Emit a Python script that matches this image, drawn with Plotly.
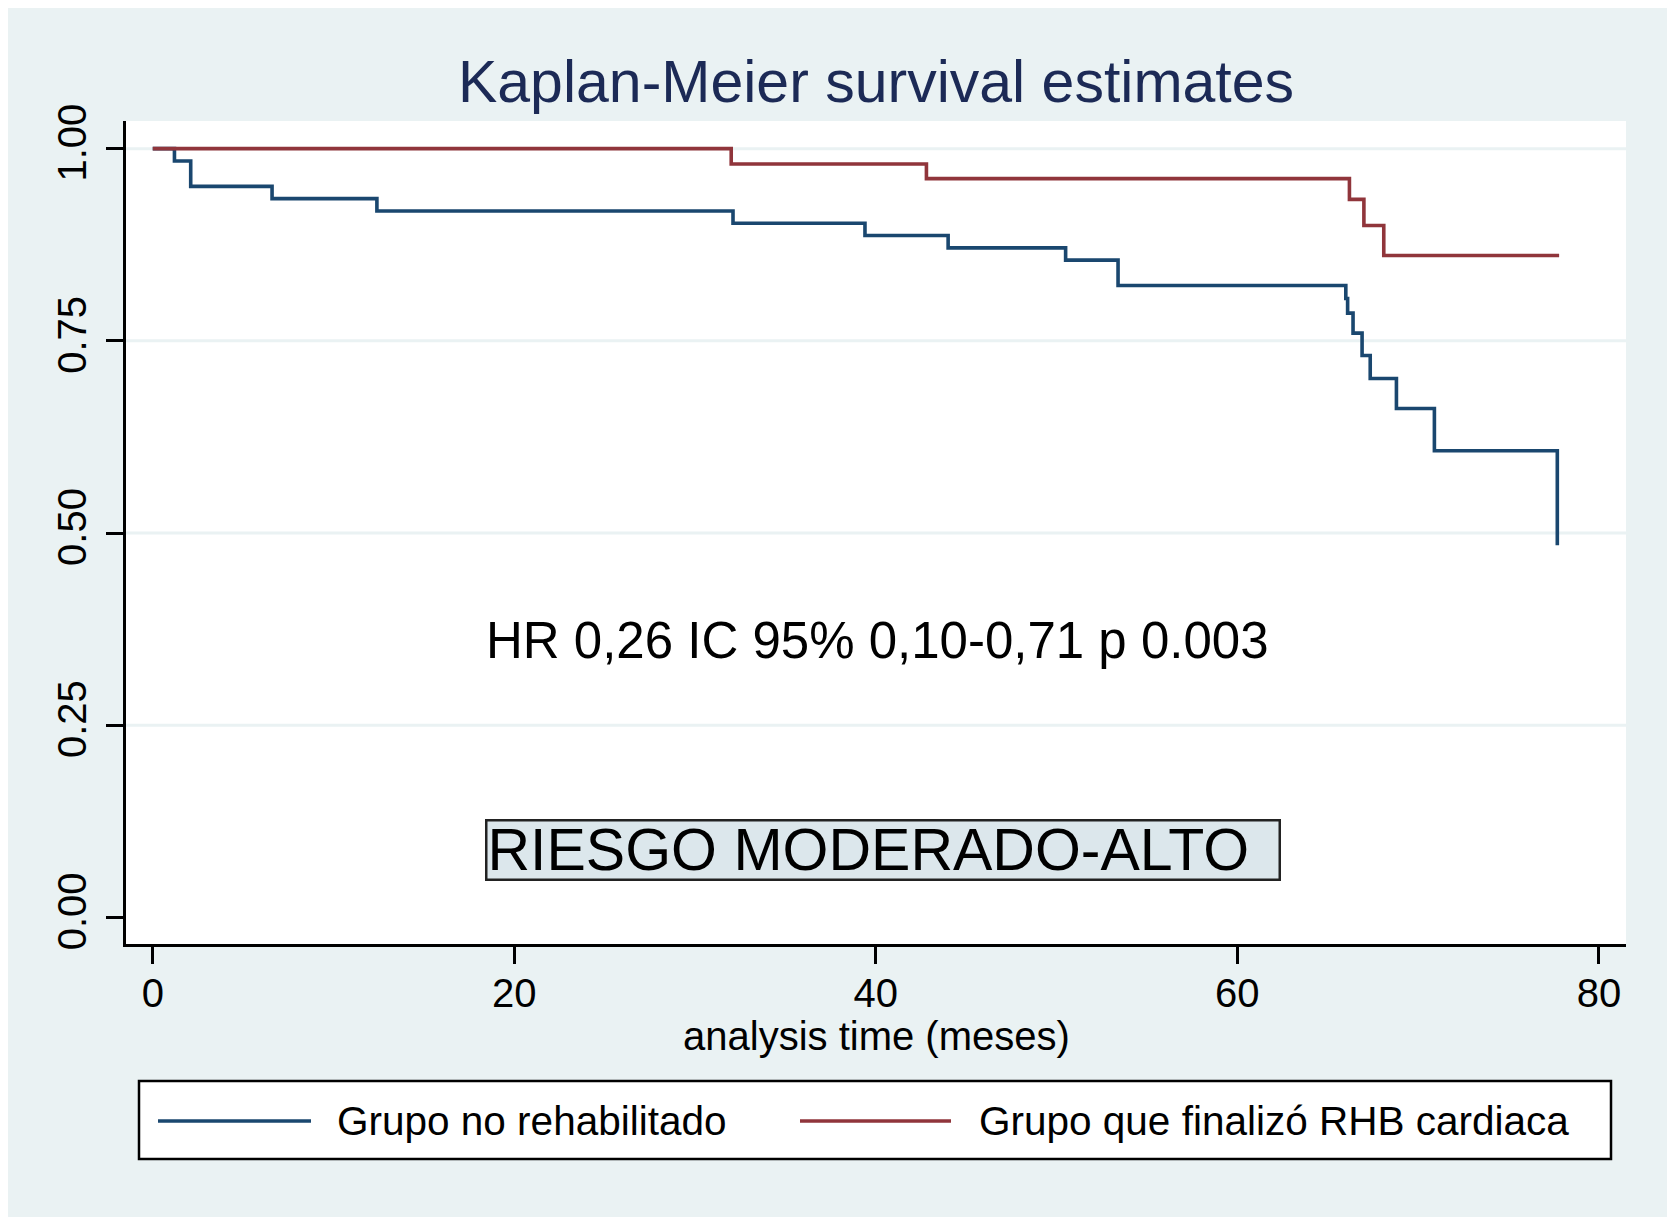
import plotly.graph_objects as go

# ---- data ----
t_no_rhb = [0, 1.2, 2.1, 6.6, 12.4, 32.1, 39.4, 44.0, 50.5, 53.4, 66.0, 66.1, 66.4, 66.9, 67.35, 68.8, 70.9, 77.7, 77.7]
s_no_rhb = [1.0, 0.984, 0.951, 0.935, 0.919, 0.903, 0.887, 0.871, 0.855, 0.822, 0.805, 0.786, 0.760, 0.731, 0.701, 0.662, 0.607, 0.607, 0.484]

t_rhb = [0, 32.0, 42.8, 66.2, 67.0, 68.1, 77.8]
s_rhb = [1.0, 0.980, 0.961, 0.934, 0.900, 0.861, 0.861]

series_names = ["Grupo no rehabilitado", "Grupo que finalizó RHB cardiaca"]
series_colors = ["#1a476f", "#90353b"]

x_ticks = [0, 20, 40, 60, 80]
y_ticks = [0.0, 0.25, 0.50, 0.75, 1.00]
y_tick_labels = ["0.00", "0.25", "0.50", "0.75", "1.00"]
grid_values = [0.25, 0.50, 0.75, 1.00]

title_text = "Kaplan-Meier survival estimates"
xaxis_title = "analysis time (meses)"
hr_text = "HR 0,26 IC 95% 0,10-0,71 p 0.003"
risk_text = "RIESGO MODERADO-ALTO"

FONT = "Liberation Sans, Arial, sans-serif"
BG = "#eaf2f3"

W, H = 1675, 1221
ML, MR, MT, MB = 118, 57, 113, 285
PW = W - ML - MR   # 1500
PH = H - MT - MB   # 823


def px(xdiv):
    return (xdiv - ML) / PW


def py(ydiv):
    return (H - MB - ydiv) / PH


fig = go.Figure()
for t, s, name, col in [(t_no_rhb, s_no_rhb, series_names[0], series_colors[0]),
                        (t_rhb, s_rhb, series_names[1], series_colors[1])]:
    fig.add_trace(go.Scatter(x=t, y=s, mode="lines", name=name,
                             line=dict(color=col, width=3.6, shape="hv"),
                             showlegend=False))

shapes = []
# outer light background (white frame around it)
shapes.append(dict(type="rect", xref="paper", yref="paper",
                   x0=px(0), x1=px(W - 13), y0=py(H - 12), y1=py(0),
                   fillcolor=BG, line=dict(width=0), layer="below"))
# plot region white
shapes.append(dict(type="rect", xref="paper", yref="paper", x0=0, x1=1, y0=0, y1=1,
                   fillcolor="white", line=dict(width=0), layer="below"))
# gridlines
for g in grid_values:
    shapes.append(dict(type="line", xref="paper", yref="y", x0=0, x1=1, y0=g, y1=g,
                       line=dict(color=BG, width=3), layer="below"))
# legend box
shapes.append(dict(type="rect", xref="paper", yref="paper",
                   x0=(139-126)/1500, x1=(1611-126)/1500,
                   y0=(944-1159)/823, y1=(944-1081)/823,
                   fillcolor="white", line=dict(color="black", width=2.5)))
leg_y = (944-1121)/823
leg_items = [((158-126)/1500, (311-126)/1500, 0.1393),
             ((800-126)/1500, (951-126)/1500, 0.5670)]
annotations = []
for (lx0, lx1, tx), name, col in zip(leg_items, series_names, series_colors):
    shapes.append(dict(type="line", xref="paper", yref="paper", x0=lx0, x1=lx1,
                       y0=leg_y, y1=leg_y, line=dict(color=col, width=3.6)))
    annotations.append(dict(xref="paper", yref="paper", x=tx, y=leg_y, text=name,
                            showarrow=False, xanchor="left", yanchor="middle",
                            font=dict(family=FONT, size=40.5, color="black")))

# HR text
annotations.append(dict(xref="x", yref="y", x=40.1, y=0.36, text=hr_text, showarrow=False,
                        xanchor="center", yanchor="middle",
                        font=dict(family=FONT, size=51, color="black")))
# risk box text
annotations.append(dict(xref="paper", yref="paper", x=(485-126)/1500, y=(944-851)/823 + 0.0012,
                        text=risk_text, showarrow=False, xanchor="left", yanchor="middle",
                        align="left", width=791, height=57,
                        bgcolor="#dce7ec", bordercolor="#222222", borderwidth=2.5, borderpad=0,
                        font=dict(family=FONT, size=59, color="black")))
# x axis title
annotations.append(dict(xref="paper", yref="paper", x=0.5, y=(944-1036)/823, text=xaxis_title,
                        showarrow=False, xanchor="center", yanchor="middle",
                        font=dict(family=FONT, size=40, color="black")))

fig.update_layout(
    width=W, height=H,
    margin=dict(l=ML, r=MR, t=MT, b=MB, autoexpand=False),
    paper_bgcolor="white", plot_bgcolor="rgba(0,0,0,0)",
    title=dict(text=title_text, x=0.5, xref="paper", y=1-73/H, yanchor="middle",
               xanchor="center", font=dict(family=FONT, size=59, color="#1c2a56")),
    shapes=shapes, annotations=annotations,
    showlegend=False,
)
fig.update_xaxes(range=[-1.48, 81.5], tickvals=x_ticks, showgrid=False, zeroline=False,
                 showline=True, linecolor="black", linewidth=2.5,
                 ticks="outside", ticklen=17, tickwidth=2.5, tickcolor="black",
                 ticklabelstandoff=-5,
                 tickfont=dict(family=FONT, size=40, color="black"))
fig.update_yaxes(range=[-0.0347, 1.036], tickvals=y_ticks, ticktext=y_tick_labels,
                 tickangle=-90, showgrid=False, zeroline=False,
                 showline=True, linecolor="black", linewidth=2.5,
                 ticks="outside", ticklen=17, tickwidth=2.5, tickcolor="black",
                 ticklabelstandoff=4,
                 tickfont=dict(family=FONT, size=40, color="black"))

fig.write_html("out.html")
